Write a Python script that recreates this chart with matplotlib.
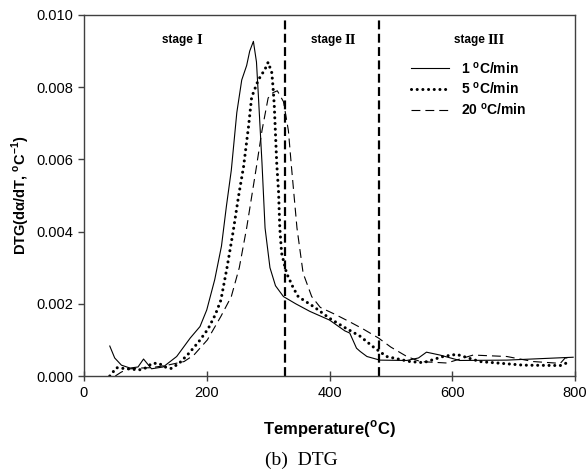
import numpy as np
import matplotlib
matplotlib.use("Agg")
import matplotlib.pyplot as plt

plt.rcParams['font.family'] = ['Liberation Sans', 'DejaVu Sans']
plt.rcParams['mathtext.fontset'] = 'custom'
plt.rcParams['mathtext.rm'] = 'Liberation Sans'
plt.rcParams['mathtext.bf'] = 'Liberation Sans:bold'

# 1 C/min (solid)
t1 = [42, 50, 61, 75, 88, 97, 110, 129, 151, 173, 189, 200, 213, 224, 232, 240,
      249, 257, 265, 270, 276, 281, 284, 290, 295, 303, 312, 325, 345, 368, 400,
      425, 433, 444, 450, 461, 482, 526, 545, 558, 580, 612, 689, 797]
d1 = [0.00083, 0.0005, 0.0003, 0.00022, 0.00025, 0.00047, 0.0002, 0.00025,
      0.00054, 0.00105, 0.00137, 0.00183, 0.00267, 0.0036, 0.0047, 0.0057,
      0.0073, 0.0082, 0.0086, 0.0090, 0.00927, 0.0087, 0.0078, 0.0059, 0.0041,
      0.0030, 0.0025, 0.0022, 0.0020, 0.00179, 0.00155, 0.00125, 0.00119,
      0.00077, 0.00068, 0.00054, 0.00044, 0.00043, 0.0005, 0.00066, 0.00058,
      0.00043, 0.00044, 0.00052]

# 5 C/min (dotted)
t5 = [42, 53, 70, 90, 100, 111, 122, 132, 142, 155, 171, 187, 202, 214, 223,
      233, 243, 252, 260, 268, 273, 276, 284, 295, 300, 306, 308, 310, 314, 317,
      319, 322, 330, 341, 349, 376, 400, 422, 450, 471, 493, 531, 553, 585, 607,
      645, 716, 776, 792]
d5 = [0.0, 0.00023, 0.0002, 0.00017, 0.00022, 0.00035, 0.00035, 0.00025,
      0.00021, 0.00035, 0.00063, 0.00095, 0.0013, 0.0017, 0.0021, 0.003, 0.004,
      0.005, 0.0058, 0.0069, 0.0077, 0.00785, 0.0082, 0.0085, 0.00869, 0.0084,
      0.008, 0.0075, 0.0059, 0.0051, 0.0041, 0.0034, 0.00285, 0.00244, 0.0022,
      0.0019, 0.0016, 0.00137, 0.0011, 0.00081, 0.00054, 0.0004, 0.00037,
      0.00054, 0.0006, 0.0004, 0.0003, 0.00029, 0.0004]

# 20 C/min (dashed)
t20 = [51, 60, 70, 90, 110, 136, 163, 179, 201, 223, 240, 253, 265, 281, 290,
       300, 308, 315, 325, 333, 338, 347, 357, 371, 385, 410, 433, 455, 480, 500,
       526, 548, 591, 634, 689, 732, 776, 784, 795]
d20 = [0.0, 0.0001, 0.00019, 0.00022, 0.00023, 0.0003, 0.0004, 0.00058, 0.001,
       0.00165, 0.0022, 0.003, 0.0041, 0.0058, 0.0068, 0.0077, 0.00785, 0.0079,
       0.0076, 0.0068, 0.0058, 0.0041, 0.00285, 0.0022, 0.0019, 0.0017, 0.0015,
       0.0013, 0.00105, 0.0008, 0.00054, 0.0004, 0.00036, 0.00058, 0.00054,
       0.0004, 0.00035, 0.0005, 0.0005]

stage_bounds = [327, 480]
stage_x = [183, 425, 658]
stage_num = ['I', 'II', 'III']
xticks = [0, 200, 400, 600, 800]
yticks = [0.000, 0.002, 0.004, 0.006, 0.008, 0.010]

fig = plt.figure(figsize=(5.86, 4.70), dpi=100)
ax = fig.add_axes([84 / 586, 1 - 376 / 470, 491 / 586, 361 / 470])

ax.plot(t1, d1, color='black', lw=0.8, label=r'1 $^{\mathbf{o}}$C/min')
ax.plot(t5, d5, color='black', lw=2.2, linestyle=(0, (0.01, 1.85)),
        dash_capstyle='round', label=r'5 $^{\mathbf{o}}$C/min')
ax.plot(t20, d20, color='black', lw=0.8, linestyle=(0, (8, 4.5)),
        label=r'20 $^{\mathbf{o}}$C/min')

for b in stage_bounds:
    ax.axvline(b, color='black', lw=1.6, linestyle=(0, (4, 2)))

for x, n in zip(stage_x, stage_num):
    ax.text(x, 0.0093, 'stage ', ha='right', va='center', fontsize=8.5,
            fontweight='bold')
    ax.text(x, 0.0093, n, ha='left', va='center', fontsize=10.5,
            fontweight='bold', family='Liberation Serif')

leg = ax.legend(loc='upper left', bbox_to_anchor=(0.665, 0.875), frameon=False,
                fontsize=10, handlelength=2.75, handletextpad=0.85,
                labelspacing=0.35, borderpad=0, borderaxespad=0)
for t in leg.get_texts():
    t.set_fontweight('bold')

ax.set_xlim(0, 800)
ax.set_ylim(0, 0.010)
ax.set_xticks(xticks)
ax.set_yticks(yticks)
ax.set_yticklabels([f'{v:.3f}' for v in yticks])
ax.tick_params(axis='x', direction='inout', length=7, width=1, color='#404040',
               labelsize=10.5, pad=4)
ax.tick_params(axis='y', direction='out', length=4, width=1, color='#404040',
               labelsize=10.5, pad=4)
ax.tick_params(top=False, right=False)
for s in ax.spines.values():
    s.set_color('#404040')
    s.set_linewidth(1)

ax.set_xlabel(r'Temperature($^{\mathbf{o}}$C)', fontsize=12, fontweight='bold',
              labelpad=13)
ax.set_ylabel(r'DTG(dα/dT, $^{\mathbf{o}}$C$^{\mathbf{-1}}$)', fontsize=10.5,
              fontweight='bold', labelpad=3)

fig.text(301 / 586, 1 - 460 / 470, '(b)  DTG', ha='center', va='center',
         fontsize=14, family='Liberation Serif')

fig.savefig('out.png', dpi=100)
